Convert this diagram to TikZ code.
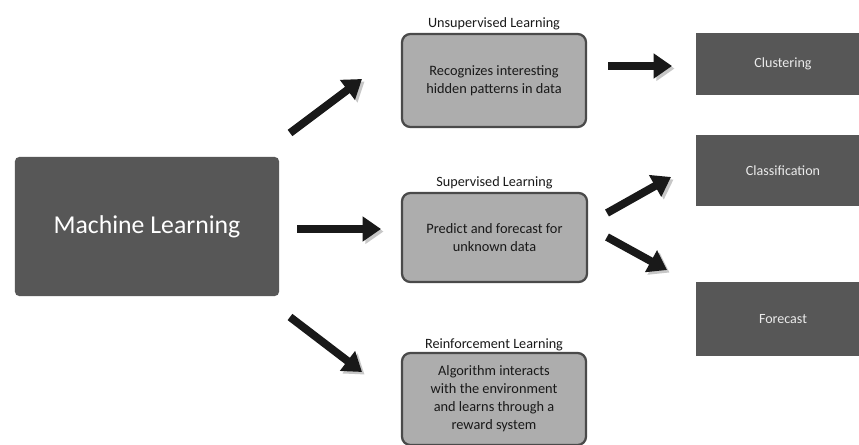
\documentclass[tikz,border=0pt]{standalone}
\usepackage{fontspec}
\setmainfont{Carlito}
\usetikzlibrary{arrows.meta, positioning}

\definecolor{darkbox}{HTML}{575757}
\definecolor{lightbox}{HTML}{ADADAD}
\definecolor{boxline}{HTML}{4A4A4A}

\tikzset{
  mainbox/.style={fill=darkbox, rounded corners=3pt, text=white,
    font=\fontsize{18.3}{21}\selectfont},
  learnbox/.style={fill=lightbox, draw=boxline, line width=1.6pt,
    rounded corners=6pt, align=center, text=black!90,
    font=\fontsize{10.2}{12.8}\selectfont},
  resultbox/.style={fill=darkbox, text=white!92!black,
    font=\fontsize{10}{12}\selectfont},
  title/.style={font=\fontsize{10.1}{12}\selectfont, text=black!90},
  bigarrow/.style={line width=5.6pt, black!90,
    -{Triangle[length=13pt,width=17pt]},
    preaction={draw=black!22, transform canvas={shift={(1.8pt,-1.8pt)}}}}
}

\begin{document}
\begin{tikzpicture}[x=0.025cm, y=-0.025cm]
  \clip (0,0) rectangle (859,445);
  \fill[white] (0,0) rectangle (859,445);

  \node[mainbox, minimum width=6.6cm, minimum height=3.475cm] (ml) at (147,226.5) {Machine Learning};

  \node[learnbox, minimum width=4.6cm, minimum height=2.325cm] (unsup) at (494,80.5)
    {Recognizes interesting\\hidden patterns in data};
  \node[learnbox, minimum width=4.625cm, minimum height=2.225cm] (sup) at (494.5,237.5)
    {Predict and forecast for\\unknown data};
  \node[learnbox, minimum width=4.6cm, minimum height=2.3cm] (reinf) at (494,399)
    {Algorithm interacts\\with the environment\\and learns through a\\reward system};

  \node[title, above=-0.6mm of unsup] (unsuptitle) {Unsupervised Learning};
  \node[title, above=-0.6mm of sup] (suptitle) {Supervised Learning};
  \node[title, above=-0.9mm of reinf] (reinftitle) {Reinforcement Learning};

  \node[resultbox, minimum width=4.35cm, minimum height=1.55cm] (clust) at (783,64) {Clustering};
  \node[resultbox, minimum width=4.35cm, minimum height=1.775cm] (classif) at (783,170.5) {Classification};
  \node[resultbox, minimum width=4.35cm, minimum height=1.85cm] (fcast) at (783,319) {Forecast};

  \coordinate (mlup) at (290,133);
  \coordinate (unsupin) at (362,79);
  \coordinate (mlmid) at (297,229);
  \coordinate (supin) at (381,229);
  \coordinate (mldown) at (290,317);
  \coordinate (reinfin) at (362,372);
  \coordinate (unsupout) at (608,66);
  \coordinate (clustin) at (672,66);
  \coordinate (supup) at (607,213);
  \coordinate (classifin) at (671,177);
  \coordinate (supdown) at (607,237);
  \coordinate (fcastin) at (667,270);

  \draw[bigarrow] (mlup) -- (unsupin);
  \draw[bigarrow] (mlmid) -- (supin);
  \draw[bigarrow] (mldown) -- (reinfin);
  \draw[bigarrow] (unsupout) -- (clustin);
  \draw[bigarrow] (supup) -- (classifin);
  \draw[bigarrow] (supdown) -- (fcastin);
\end{tikzpicture}
\end{document}
